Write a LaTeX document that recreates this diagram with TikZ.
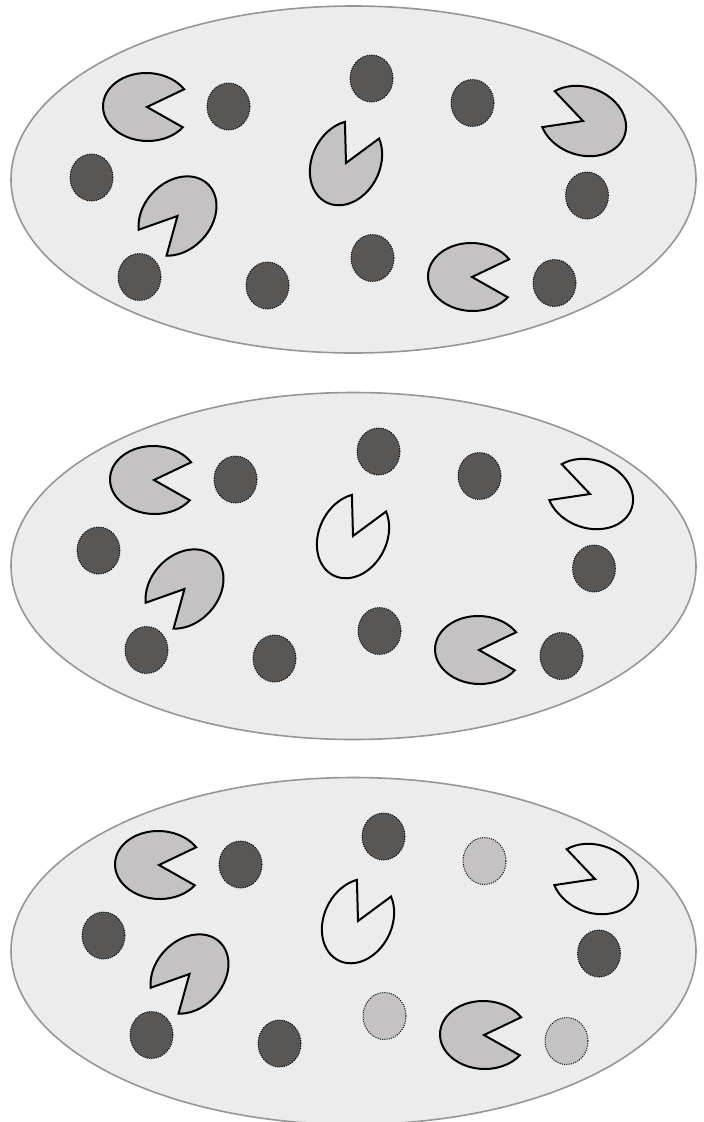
\documentclass[tikz,border=0pt]{standalone}
\definecolor{bg}{HTML}{EBECEB}
\definecolor{rim}{HTML}{969696}
\definecolor{pacfill}{HTML}{C4C2C3}
\definecolor{dotdark}{HTML}{595755}
\definecolor{dotlight}{HTML}{C4C2C3}
\tikzset{
  field/.style={fill=bg, draw=rim, line width=1.6pt},
  pacgray/.style={fill=pacfill, draw=black, line width=2pt},
  pacopen/.style={draw=black, line width=2pt},
  dotd/.style={fill=dotdark, draw=black, line width=1pt, dash pattern=on 1pt off 1.3pt},
  dotl/.style={fill=dotlight, draw=black, line width=1pt, dash pattern=on 1pt off 1.3pt}
}
% x, y (image px, y downward), mouth direction (deg, ccw), style
\newcommand\pacman[4]{%
  \begin{scope}[shift={(#1,-#2)}, rotate=#3]
    \draw[#4] (0,0) -- (34:44 and 34) arc[start angle=34, end angle=326, x radius=44, y radius=34] -- cycle;
  \end{scope}}
\newcommand\blob[3]{\draw[#3] (#1,-#2) ellipse[x radius=21.5, y radius=23.5];}
% #1 style of pacmen 2,3 ; #2 style of dot c ; #3 dot h ; #4 dot i
\newcommand\panelcontent[4]{%
  \pacman{147}{107}{-2}{pacgray}
  \pacman{346}{163}{64}{#1}
  \pacman{583}{121}{161}{#1}
  \pacman{177.5}{216}{227}{pacgray}
  \pacman{472}{277}{-2}{pacgray}
  \blob{228.5}{106.5}{dotd}
  \blob{371.5}{78.5}{dotd}
  \blob{472.5}{103}{#2}
  \blob{91.5}{177.5}{dotd}
  \blob{587}{195.5}{dotd}
  \blob{139.5}{277}{dotd}
  \blob{267.5}{285.5}{dotd}
  \blob{372.5}{258}{#3}
  \blob{554.5}{283}{#4}}
\begin{document}
\begin{tikzpicture}[x=1pt,y=1pt]
  \useasboundingbox (0,0) rectangle (704,-1122);
  \draw[field] (353.5,-179.5) ellipse[x radius=342.5, y radius=173.5];
  \draw[field] (353.5,-566) ellipse[x radius=342.5, y radius=173.5];
  \draw[field] (353.5,-951) ellipse[x radius=342.5, y radius=173.5];
  \begin{scope}
    \panelcontent{pacgray}{dotd}{dotd}{dotd}
  \end{scope}
  \begin{scope}[shift={(7,-373)}]
    \panelcontent{pacopen}{dotd}{dotd}{dotd}
  \end{scope}
  \begin{scope}[shift={(12,-758)}]
    \panelcontent{pacopen}{dotl}{dotl}{dotl}
  \end{scope}
\end{tikzpicture}
\end{document}
